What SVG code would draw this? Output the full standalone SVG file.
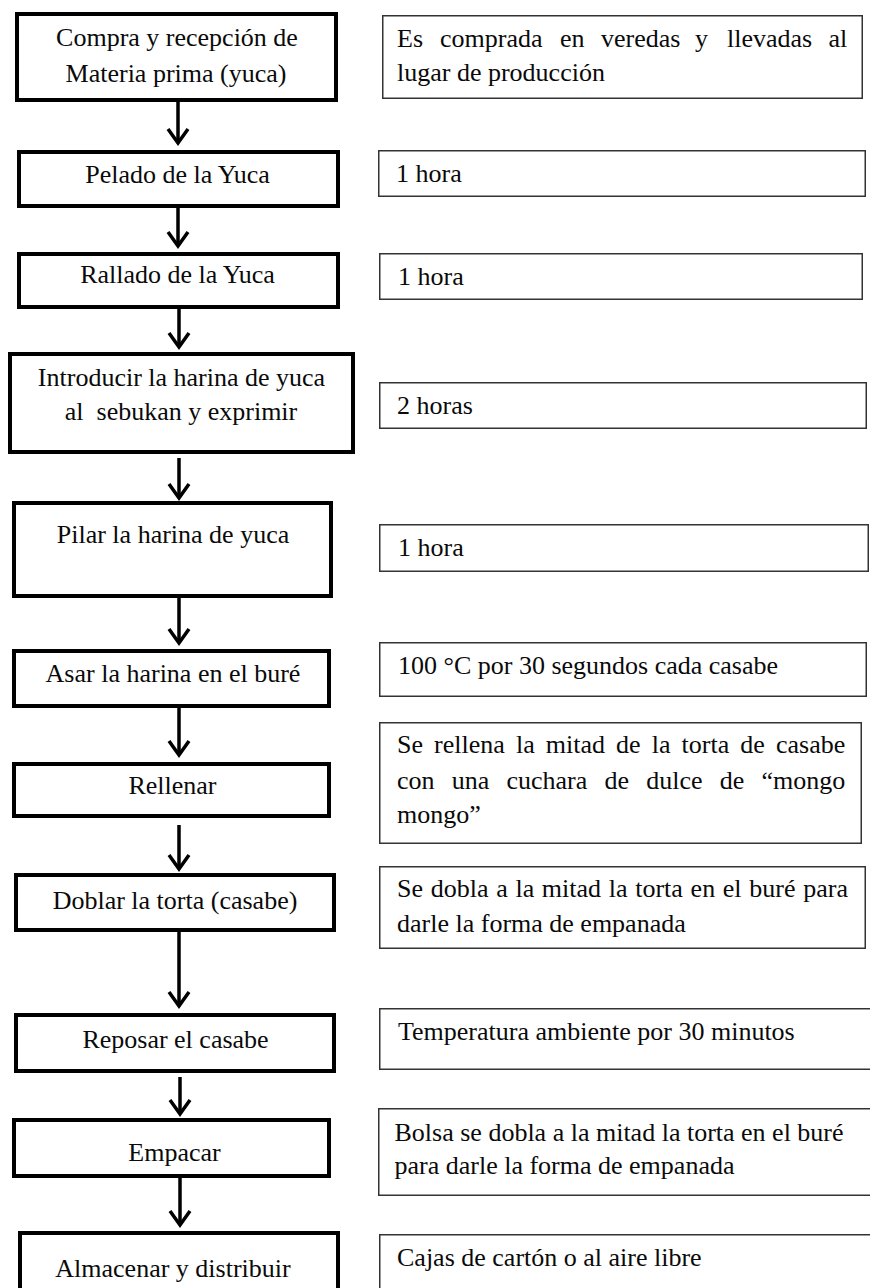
<svg xmlns="http://www.w3.org/2000/svg" width="870" height="1288" viewBox="0 0 870 1288">
<style>
  text { font-family: "Liberation Serif", "Times New Roman", serif; font-size: 26px; fill: #0a0a0a; }
  .c { text-anchor: middle; }
  .step { fill: #fff; stroke: #000; stroke-width: 4; }
  .note { fill: #fff; stroke: #333; stroke-width: 1.5; }
  .conn { fill: none; stroke: #000; stroke-width: 3.5; marker-end: url(#arr); }
</style>
<defs>
  <marker id="arr" markerUnits="userSpaceOnUse" viewBox="-17 -13 22 26" refX="0" refY="0" markerWidth="22" markerHeight="26" orient="auto">
    <path d="M-14,-10 L0,0 L-14,10" fill="none" stroke="#000" stroke-width="3.5"/>
  </marker>
</defs>
<rect width="870" height="1288" fill="#fff"/>

<g id="connectors">
  <line class="conn" x1="178" y1="102" x2="178" y2="143"/>
  <line class="conn" x1="178" y1="208" x2="178" y2="246"/>
  <line class="conn" x1="179" y1="309" x2="179" y2="347"/>
  <line class="conn" x1="179" y1="458" x2="179" y2="498"/>
  <line class="conn" x1="179" y1="598" x2="179" y2="643"/>
  <line class="conn" x1="179" y1="708" x2="179" y2="755"/>
  <line class="conn" x1="179" y1="825" x2="179" y2="869"/>
  <line class="conn" x1="179" y1="932" x2="179" y2="1006"/>
  <line class="conn" x1="180" y1="1077" x2="180" y2="1114"/>
  <line class="conn" x1="180" y1="1178" x2="180" y2="1225"/>
</g>

<g id="step1"><rect class="step" x="17" y="14" width="319" height="86"/>
  <text class="c" x="177" y="46">Compra y recepción de</text>
  <text class="c" x="176" y="82">Materia prima (yuca)</text></g>
<g id="step2"><rect class="step" x="19" y="152" width="319" height="54"/>
  <text class="c" x="177.5" y="183">Pelado de la Yuca</text></g>
<g id="step3"><rect class="step" x="19" y="254" width="319" height="53"/>
  <text class="c" x="177.5" y="283">Rallado de la Yuca</text></g>
<g id="step4"><rect class="step" x="10" y="354" width="343" height="98"/>
  <text class="c" x="181.5" y="386">Introducir la harina de yuca</text>
  <text class="c" x="181" y="420" xml:space="preserve">al  sebukan y exprimir</text></g>
<g id="step5"><rect class="step" x="14" y="503" width="317" height="93"/>
  <text class="c" x="173" y="543">Pilar la harina de yuca</text></g>
<g id="step6"><rect class="step" x="14" y="651" width="315" height="55"/>
  <text class="c" x="173" y="682">Asar la harina en el buré</text></g>
<g id="step7"><rect class="step" x="14" y="764" width="315" height="52"/>
  <text class="c" x="172.5" y="794">Rellenar</text></g>
<g id="step8"><rect class="step" x="16" y="875" width="318" height="55"/>
  <text class="c" x="175" y="909">Doblar la torta (casabe)</text></g>
<g id="step9"><rect class="step" x="16" y="1015" width="318" height="56"/>
  <text class="c" x="175.5" y="1048">Reposar el casabe</text></g>
<g id="step10"><rect class="step" x="14" y="1120" width="315" height="56"/>
  <text class="c" x="174.5" y="1161">Empacar</text></g>
<g id="step11"><rect class="step" x="20" y="1233" width="318" height="60"/>
  <text class="c" x="173" y="1277">Almacenar y distribuir</text></g>

<g id="note1"><rect class="note" x="382.75" y="15.75" width="479.5" height="82.5"/>
  <text y="46.5"><tspan x="397">Es</tspan><tspan x="440">comprada</tspan><tspan x="560">en</tspan><tspan x="601">veredas</tspan><tspan x="695">y</tspan><tspan x="727">llevadas</tspan><tspan x="828.5">al</tspan></text>
  <text x="397" y="81">lugar de producción</text></g>
<g id="note2"><rect class="note" x="378.75" y="150.75" width="486.5" height="45.5"/>
  <text x="396" y="182">1 hora</text></g>
<g id="note3"><rect class="note" x="379.75" y="253.75" width="482.5" height="45.5"/>
  <text x="398" y="285">1 hora</text></g>
<g id="note4"><rect class="note" x="379.75" y="382.75" width="486.5" height="45.5"/>
  <text x="397" y="414">2 horas</text></g>
<g id="note5"><rect class="note" x="379.75" y="524.75" width="488.5" height="46.5"/>
  <text x="398" y="556">1 hora</text></g>
<g id="note6"><rect class="note" x="379.75" y="642.75" width="486.5" height="53.5"/>
  <text x="398" y="674">100 °C por 30 segundos cada casabe</text></g>
<g id="note7"><rect class="note" x="379.75" y="722.75" width="481.5" height="120.5"/>
  <text x="397" y="753" word-spacing="4.6">Se rellena la mitad de la torta de casabe</text>
  <text x="397" y="789" word-spacing="10.7">con una cuchara de dulce de “mongo</text>
  <text x="397" y="823">mongo”</text></g>
<g id="note8"><rect class="note" x="379.75" y="866.75" width="485.5" height="81.5"/>
  <text x="397" y="897" word-spacing="1.2">Se dobla a la mitad la torta en el buré para</text>
  <text x="397" y="932">darle la forma de empanada</text></g>
<g id="note9"><rect class="note" x="379.75" y="1008.75" width="495" height="60.5"/>
  <text x="398" y="1040">Temperatura ambiente por 30 minutos</text></g>
<g id="note10"><rect class="note" x="378.75" y="1108.75" width="496" height="86.5"/>
  <text x="394.5" y="1141">Bolsa se dobla a la mitad la torta en el buré</text>
  <text x="394.5" y="1174">para darle la forma de empanada</text></g>
<g id="note11"><rect class="note" x="379.75" y="1234.75" width="495" height="60"/>
  <text x="397" y="1266">Cajas de cartón o al aire libre</text></g>
</svg>
